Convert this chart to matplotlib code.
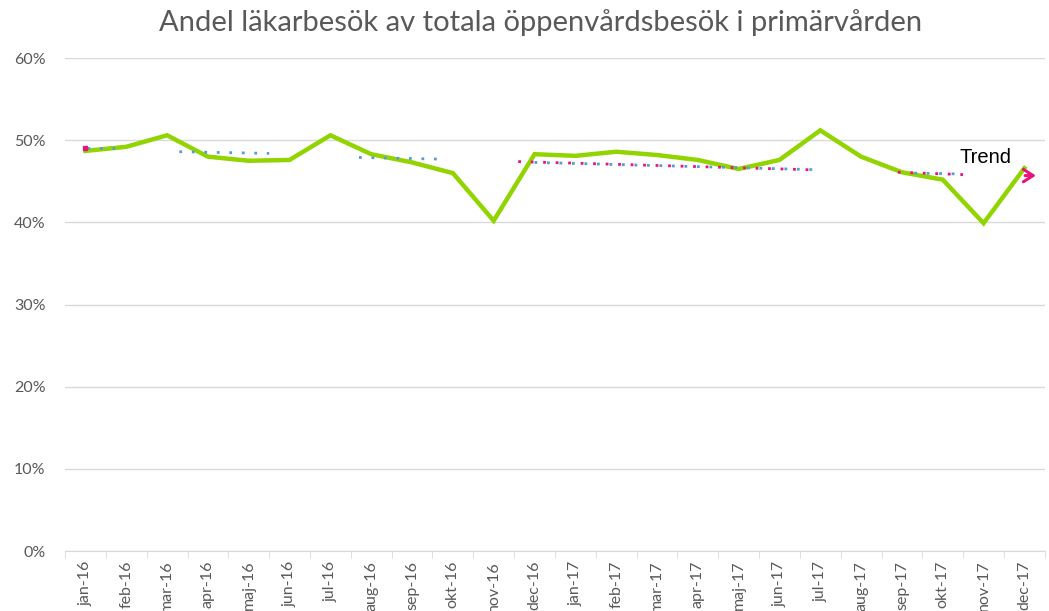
import matplotlib.pyplot as plt
import numpy as np

# Months and share of doctor visits (%)
months = ['jan-16', 'feb-16', 'mar-16', 'apr-16', 'maj-16', 'jun-16', 'jul-16', 'aug-16',
          'sep-16', 'okt-16', 'nov-16', 'dec-16', 'jan-17', 'feb-17', 'mar-17', 'apr-17',
          'maj-17', 'jun-17', 'jul-17', 'aug-17', 'sep-17', 'okt-17', 'nov-17', 'dec-17']
share = [48.7, 49.2, 50.6, 48.0, 47.5, 47.6, 50.6, 48.3, 47.3, 46.0, 40.2, 48.3,
         48.1, 48.6, 48.2, 47.6, 46.5, 47.6, 51.2, 48.0, 46.1, 45.2, 39.9, 46.6]

# Trend segments: (start index, end index, start value, end value)
blue_trends = [(0.05, 0.9, 49.0, 49.0), (2.3, 4.5, 48.6, 48.4), (6.7, 8.7, 47.9, 47.7),
               (11.0, 18.0, 47.3, 46.4), (20.3, 21.4, 46.0, 45.9)]
pink_trends = [(10.6, 17.8, 47.4, 46.4), (19.9, 21.6, 46.1, 45.8)]
trend_end = 45.7

fig = plt.figure(figsize=(10.49, 6.11), dpi=100)
ax = fig.add_axes([0.062, 0.098, 0.934, 0.807])

x = np.arange(len(months))
grey = '#595959'

ax.plot(x, share, color='#92D400', lw=3.2, zorder=3, solid_joinstyle='miter')

for x0, x1, y0, y1 in blue_trends:
    ax.plot([x0, x1], [y0, y1], color='#5B9BD5', lw=2, ls=(0, (1, 3.5)), zorder=4)
for x0, x1, y0, y1 in pink_trends:
    ax.plot([x0, x1], [y0, y1], color='#E6157E', lw=2, ls=(0, (1, 3.5)), zorder=4)
ax.plot([0], [49.0], 's', color='#E6157E', ms=3, zorder=5)

# trend arrow and label
ax.annotate('', xy=(23.35, trend_end), xytext=(22.95, trend_end),
            arrowprops=dict(arrowstyle='->,head_length=0.7,head_width=0.45',
                            color='#E6157E', lw=2.2), zorder=5)
ax.text(22.05, 47.95, 'Trend', fontsize=14.5, color='black', ha='center', va='center',
        family='Liberation Sans')

ax.set_xlim(-0.5, len(months) - 0.5)
ax.set_ylim(0, 60)
ax.set_yticks(np.arange(0, 61, 10))
ax.set_yticklabels([f'{v}%' for v in range(0, 61, 10)], color=grey, fontsize=11.5,
                   family='Lato')
ax.set_xticks(x)
ax.set_xticklabels(months, rotation=90, color=grey, fontsize=11.5, family='Lato')
ax.tick_params(axis='x', length=0, pad=7)
ax.tick_params(axis='y', length=0, pad=14)
ax.set_xticks(np.arange(-0.5, len(months), 1), minor=True)
ax.tick_params(axis='x', which='minor', length=5, color='#d9d9d9', direction='out')

ax.grid(axis='y', color='#d9d9d9', lw=1)
ax.set_axisbelow(True)
for s in ['top', 'right', 'left']:
    ax.spines[s].set_visible(False)
ax.spines['bottom'].set_color('#d9d9d9')

fig.text(0.515, 0.963, 'Andel läkarbesök av totala öppenvårdsbesök i primärvården',
         ha='center', va='center', fontsize=21, color=grey, family='Lato')

fig.savefig('out.png', dpi=100)
